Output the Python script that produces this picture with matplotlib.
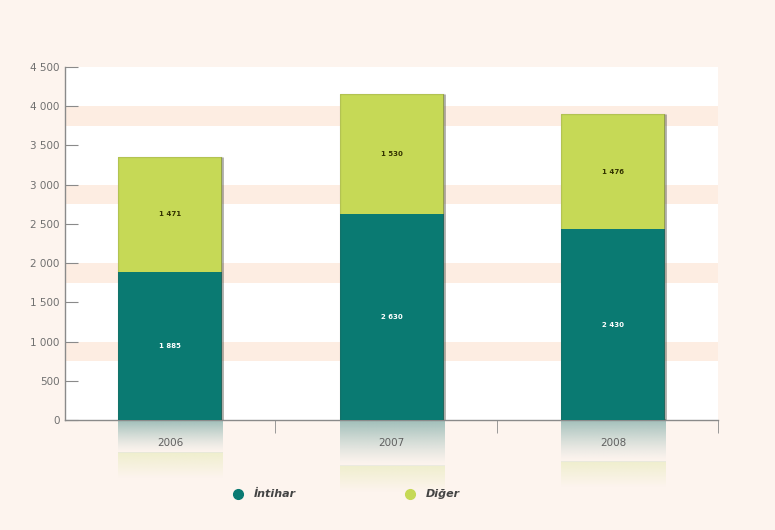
import numpy as np
import matplotlib.pyplot as plt
from matplotlib.colors import to_rgb
from matplotlib.ticker import FuncFormatter

years = ['2006', '2007', '2008']
intihar = [1885, 2630, 2430]
diger = [1471, 1530, 1476]
series_names = ['İntihar', 'Diğer']

teal = '#0a7a72'
lime = '#c6d956'
bg = '#fdf4ee'
band = '#fdede2'

def spaced(v, pos=None):
    return f'{int(v):,}'.replace(',', ' ')

fig = plt.figure(figsize=(7.75, 5.3), dpi=100, facecolor=bg)
ax = fig.add_axes([0.084, 0.2075, 0.8425, 0.666])
ax.set_facecolor('white')

x = np.arange(len(years))
w = 0.47
totals = np.array(intihar) + np.array(diger)

# peach stripes under each thousand
for k in range(1, 5):
    ax.axhspan(k * 1000 - 250, k * 1000, color=band, lw=0, zorder=0)

ax.bar(x, intihar, w, color=teal, lw=0, zorder=3)
ax.bar(x, diger, w, bottom=intihar, color=lime, lw=0, zorder=3)
# soft shadow along the right side of the columns
ax.vlines(x + w / 2, 0, totals, color='#4a4a40', alpha=0.45, lw=2, zorder=3.5)
ax.vlines(x - w / 2, 0, totals, color='#4a4a40', alpha=0.15, lw=1, zorder=3.5)
ax.hlines(totals, x - w / 2, x + w / 2, color='#4a4a40', alpha=0.15, lw=1, zorder=3.5)

for xi, a, b in zip(x, intihar, diger):
    ax.text(xi, a / 2, spaced(a), ha='center', va='center', fontsize=5,
            color='white', fontweight='bold', zorder=4)
    ax.text(xi, a + b / 2, spaced(b), ha='center', va='center', fontsize=5,
            color='#333300', fontweight='bold', zorder=4)

# faded mirror image of each bar below the axis
scale = 0.22
ct, cl = np.array(to_rgb('#8fb5b0')), np.array(to_rgb('#e6ebb8'))
for xi, a, b in zip(x, intihar, diger):
    ha_, hb = a * scale, b * scale
    total = ha_ + hb
    n = 120
    depth = np.linspace(0, total, n)
    img = np.zeros((n, 1, 4))
    for i, d in enumerate(depth):
        if d < ha_:
            img[i, 0, :3] = ct
            img[i, 0, 3] = 0.85 * (1 - d / ha_) ** 1.3
        else:
            img[i, 0, :3] = cl
            img[i, 0, 3] = 0.6 * (1 - (d - ha_) / hb)
    ax.imshow(img, extent=[xi - w / 2, xi + w / 2, -total, 0], aspect='auto',
              clip_on=False, zorder=1, interpolation='bilinear')
ax.set_xlim(-0.474, 2.474)
ax.set_ylim(0, 4500)

for s in ['top', 'right']:
    ax.spines[s].set_visible(False)
for s in ['left', 'bottom']:
    ax.spines[s].set_color('#8a8a8a')
    ax.spines[s].set_linewidth(1.0)

ax.set_yticks(np.arange(0, 4501, 500))
ax.yaxis.set_major_formatter(FuncFormatter(spaced))
ax.tick_params(axis='y', direction='in', length=9, color='#8a8a8a',
               labelsize=7.5, labelcolor='#707070', pad=4)

ax.set_xticks(x)
ax.set_xticklabels(years)
ax.tick_params(axis='x', length=0, labelsize=7.5, labelcolor='#606060', pad=13)
ax.set_xticks([0.474, 1.476, 2.474], minor=True)
ax.tick_params(axis='x', which='minor', direction='out', length=9, color='#8a8a8a')

# legend drawn as markers plus italic labels
for fx, col, name in [(0.307, teal, series_names[0]), (0.529, lime, series_names[1])]:
    fig.lines.append(plt.Line2D([fx], [0.068], marker='o', ms=7, color=col,
                                transform=fig.transFigure))
    fig.text(fx + 0.021, 0.068, name, fontsize=8, style='italic', fontweight='bold',
             color='#444444', va='center')

fig.savefig('out.png', dpi=100, facecolor=bg)
